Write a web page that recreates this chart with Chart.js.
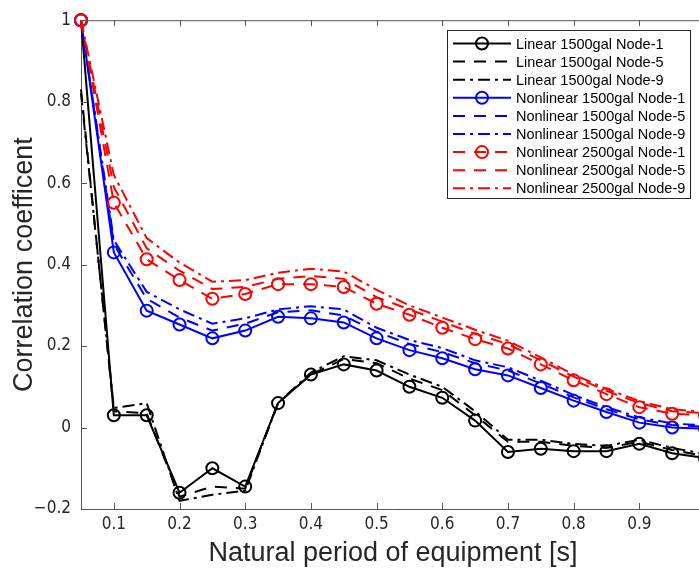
<!DOCTYPE html>
<html>
<head>
<meta charset="utf-8">
<script src="https://cdn.jsdelivr.net/npm/chart.js@4"></script>
<style>
  html, body { margin: 0; padding: 0; background: #fff; overflow: hidden; }
  canvas { display: block; }
</style>
</head>
<body>
<canvas id="myChart" width="720" height="570"></canvas>
<script>
// natural period [s]
const periods = [0.05, 0.1, 0.15, 0.2, 0.25, 0.3, 0.35, 0.4, 0.45, 0.5,
                 0.55, 0.6, 0.65, 0.7, 0.75, 0.8, 0.85, 0.9, 0.95, 1.0];

const lin1500n1 = [1.0, 0.03, 0.03, -0.16, -0.10, -0.145, 0.06, 0.13, 0.155, 0.14,
                   0.10, 0.073, 0.017, -0.06, -0.052, -0.058, -0.058, -0.04, -0.063, -0.075];
const lin1500n5 = [0.83, 0.04, 0.035, -0.17, -0.145, -0.15, 0.06, 0.13, 0.168, 0.158,
                   0.12, 0.092, 0.03, -0.035, -0.035, -0.045, -0.05, -0.035, -0.055, -0.07];
const lin1500n9 = [0.82, 0.048, 0.06, -0.18, -0.165, -0.155, 0.06, 0.135, 0.175, 0.165,
                   0.13, 0.1, 0.04, -0.03, -0.03, -0.04, -0.045, -0.03, -0.05, -0.065];

const nl1500n1 = [1.0, 0.43, 0.287, 0.253, 0.219, 0.238, 0.272, 0.268, 0.258, 0.219,
                  0.19, 0.17, 0.143, 0.128, 0.097, 0.066, 0.038, 0.012, 0.0, -0.003];
const nl1500n5 = [1.0, 0.45, 0.316, 0.27, 0.238, 0.255, 0.283, 0.288, 0.275, 0.235,
                  0.205, 0.185, 0.158, 0.14, 0.108, 0.074, 0.045, 0.02, 0.006, 0.002];
const nl1500n9 = [1.0, 0.46, 0.333, 0.29, 0.255, 0.268, 0.29, 0.298, 0.29, 0.245,
                  0.215, 0.195, 0.165, 0.148, 0.115, 0.08, 0.05, 0.025, 0.01, 0.005];

const nl2500n1 = [1.0, 0.552, 0.413, 0.362, 0.316, 0.328, 0.352, 0.352, 0.345, 0.304,
                  0.277, 0.245, 0.217, 0.194, 0.155, 0.116, 0.082, 0.05, 0.034, 0.03];
const nl2500n5 = [1.0, 0.59, 0.44, 0.385, 0.34, 0.345, 0.365, 0.372, 0.365, 0.32,
                  0.29, 0.26, 0.23, 0.205, 0.165, 0.125, 0.09, 0.06, 0.04, 0.035];
const nl2500n9 = [1.0, 0.62, 0.465, 0.405, 0.358, 0.362, 0.38, 0.39, 0.383, 0.338,
                  0.30, 0.27, 0.24, 0.213, 0.172, 0.13, 0.095, 0.065, 0.045, 0.038];

const xTicks = [0.1, 0.2, 0.3, 0.4, 0.5, 0.6, 0.7, 0.8, 0.9, 1.0];
const yTicks = [-0.2, 0, 0.2, 0.4, 0.6, 0.8, 1.0];

const axisColor = '#262626';
const DASH = [12, 9];
const DASHDOT = [12, 5, 3, 5];

function series(label, values, color, dash, marker) {
    return {
        label: label,
        data: values.map((v, i) => ({ x: periods[i], y: v })),
        borderColor: color,
        borderWidth: 2,
        borderDash: dash,
        pointRadius: marker ? 6 : 0,
        pointHoverRadius: marker ? 6 : 0,
        pointBorderWidth: 2,
        pointBorderColor: color,
        pointBackgroundColor: 'rgba(0,0,0,0)',
        pointStyle: 'circle',
        tension: 0,
        clip: false,
        marker: marker
    };
}

const datasets = [
    series('Linear 1500gal Node-1', lin1500n1, '#000000', [], true),
    series('Linear 1500gal Node-5', lin1500n5, '#000000', DASH, false),
    series('Linear 1500gal Node-9', lin1500n9, '#000000', DASHDOT, false),
    series('Nonlinear 1500gal Node-1', nl1500n1, '#0000ff', [], true),
    series('Nonlinear 1500gal Node-5', nl1500n5, '#0000ff', DASH, false),
    series('Nonlinear 1500gal Node-9', nl1500n9, '#0000ff', DASHDOT, false),
    series('Nonlinear 2500gal Node-1', nl2500n1, '#ff0000', DASH, true),
    series('Nonlinear 2500gal Node-5', nl2500n5, '#ff0000', DASH, false),
    series('Nonlinear 2500gal Node-9', nl2500n9, '#ff0000', DASHDOT, false)
];
// later series on top, like the original plot
datasets.forEach((d, i) => { d.order = datasets.length - i; });

// box, inward ticks and the legend
const boxPlugin = {
    id: 'box',
    afterDraw(chart) {
        const ctx = chart.ctx;
        const a = chart.chartArea;
        const xs = chart.scales.x, ys = chart.scales.y;
        ctx.save();
        ctx.strokeStyle = '#555';
        ctx.lineWidth = 1;
        ctx.setLineDash([]);
        ctx.beginPath();
        ctx.moveTo(a.left, a.top + 0.5);
        ctx.lineTo(a.right, a.top + 0.5);
        ctx.moveTo(a.right - 0.5, a.top);
        ctx.lineTo(a.right - 0.5, a.bottom);
        xTicks.forEach(v => {
            const px = Math.round(xs.getPixelForValue(v)) + 0.5;
            ctx.moveTo(px, a.bottom);
            ctx.lineTo(px, a.bottom - 6);
            ctx.moveTo(px, a.top);
            ctx.lineTo(px, a.top + 6);
        });
        yTicks.forEach(v => {
            const py = Math.round(ys.getPixelForValue(v)) + 0.5;
            ctx.moveTo(a.left, py);
            ctx.lineTo(a.left + 6, py);
            ctx.moveTo(a.right, py);
            ctx.lineTo(a.right - 6, py);
        });
        ctx.stroke();

        // legend
        const bx = 447, by = 30, bw = 243, bh = 168;
        ctx.fillStyle = '#fff';
        ctx.fillRect(bx, by, bw, bh);
        ctx.strokeStyle = axisColor;
        ctx.strokeRect(bx + 0.5, by + 0.5, bw, bh);
        ctx.font = '14.5px "Liberation Sans", Arial, sans-serif';
        ctx.textBaseline = 'middle';
        chart.data.datasets.forEach((d, i) => {
            const y = 43.5 + i * 18.1;
            ctx.strokeStyle = d.borderColor;
            ctx.lineWidth = 2;
            ctx.setLineDash(d.borderDash);
            ctx.beginPath();
            ctx.moveTo(453, y);
            ctx.lineTo(511, y);
            ctx.stroke();
            if (d.marker) {
                ctx.setLineDash([]);
                ctx.beginPath();
                ctx.arc(482, y, 6, 0, Math.PI * 2);
                ctx.stroke();
            }
            ctx.fillStyle = '#000';
            ctx.fillText(d.label, 516, y + 1);
        });
        ctx.restore();
    }
};

const ctx = document.getElementById('myChart').getContext('2d');
const myChart = new Chart(ctx, {
    type: 'line',
    data: { datasets: datasets },
    plugins: [boxPlugin],
    options: {
        responsive: false,
        animation: false,
        devicePixelRatio: 1,
        layout: { padding: { top: 15, right: 15, left: 0, bottom: 0 } },
        plugins: {
            legend: { display: false },
            tooltip: { enabled: false }
        },
        scales: {
            x: {
                type: 'linear',
                min: 0.05,
                max: 1.0,
                afterBuildTicks: scale => { scale.ticks = xTicks.map(v => ({ value: v })); },
                afterFit: scale => { scale.height = 61; },
                grid: { display: false, drawTicks: false },
                border: { display: true, color: '#555', width: 1 },
                ticks: {
                    padding: 5,
                    color: axisColor,
                    font: { family: '"Liberation Sans Narrow", "DejaVu Sans Condensed", sans-serif', size: 17 },
                    maxRotation: 0,
                    autoSkip: false,
                    callback: v => (v === 1 ? '1' : v.toFixed(1))
                },
                title: {
                    display: true,
                    text: 'Natural period of equipment [s]',
                    color: axisColor,
                    font: { family: '"Liberation Sans", Arial, sans-serif', size: 27 },
                    padding: { top: 0, bottom: 0 }
                }
            },
            y: {
                type: 'linear',
                min: -0.2,
                max: 1.0,
                afterBuildTicks: scale => { scale.ticks = yTicks.map(v => ({ value: v })); },
                afterFit: scale => { scale.width = 81; },
                grid: { display: false, drawTicks: false },
                border: { display: true, color: '#555', width: 1 },
                ticks: {
                    padding: 10,
                    color: axisColor,
                    font: { family: '"Liberation Sans Narrow", "DejaVu Sans Condensed", sans-serif', size: 17 },
                    autoSkip: false,
                    callback: v => {
                        if (v === 0) return '0';
                        if (v === 1) return '1';
                        return v.toFixed(1).replace('-', '\u2212');
                    }
                },
                title: {
                    display: true,
                    text: 'Correlation coefficent',
                    color: axisColor,
                    font: { family: '"Liberation Sans", Arial, sans-serif', size: 27 },
                    padding: { top: 8, bottom: 0 }
                }
            }
        }
    }
});
</script>
</body>
</html>
